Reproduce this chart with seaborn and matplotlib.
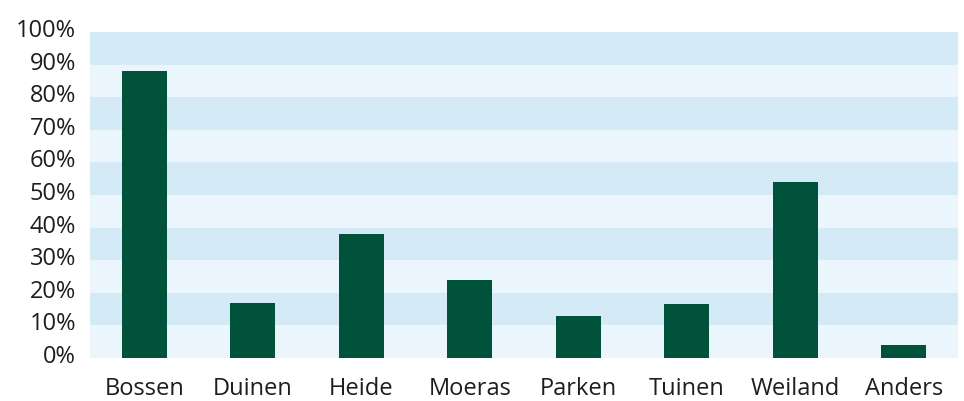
import matplotlib
matplotlib.use("Agg")
import matplotlib.pyplot as plt
import matplotlib.transforms as mtransforms
import pandas as pd
import seaborn as sns
from matplotlib.ticker import FuncFormatter

categories = ["Bossen", "Duinen", "Heide", "Moeras", "Parken", "Tuinen", "Weiland", "Anders"]
shares = [88, 17, 38, 24, 13, 16.5, 54, 4]

df = pd.DataFrame({"type": categories, "share": shares})

sns.set_style("white")
plt.rcParams["font.family"] = ["Open Sans", "DejaVu Sans"]

fig = plt.figure(figsize=(9.64, 4.01), dpi=100)
ax = fig.add_axes([0.0934, 0.1072, 0.9004, 0.8130])

# alternating background bands
for lo in range(0, 100, 10):
    band = "#d4ebf7" if (lo // 10) % 2 else "#eaf5fc"
    ax.axhspan(lo, lo + 10, color=band, lw=0, zorder=0)

sns.barplot(data=df, x="type", y="share", color="#00523a", width=0.415,
            saturation=1, linewidth=0, ax=ax, zorder=2)

ax.set_ylim(0, 100)
ax.set_xlim(-0.5, 7.5)
ax.set_yticks(range(0, 101, 10))
ax.yaxis.set_major_formatter(FuncFormatter(lambda v, _: f"{int(v)}%"))
ax.set_xlabel("")
ax.set_ylabel("")
ax.tick_params(axis="both", length=0, labelsize=17, colors="#1e1e1e")
ax.tick_params(axis="x", pad=14)
ax.tick_params(axis="y", pad=10)
sns.despine(ax=ax, left=True, bottom=True)

# y labels sit a few pixels above their band lines in the original
shift = mtransforms.ScaledTranslation(0, 4 / 100, fig.dpi_scale_trans)
for lab in ax.get_yticklabels():
    lab.set_transform(lab.get_transform() + shift)

fig.savefig("out.png", dpi=100)
